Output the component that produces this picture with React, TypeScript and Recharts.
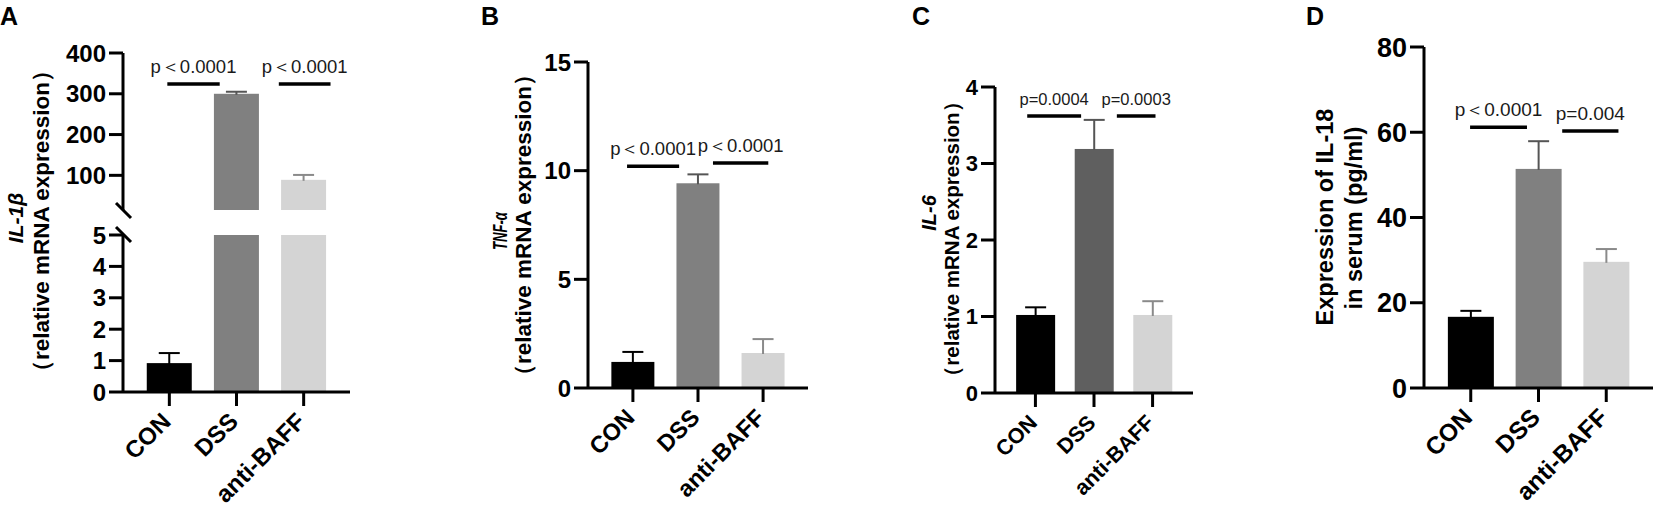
import React from 'react';
import { BarChart, Bar, Cell, XAxis, YAxis, ReferenceLine } from 'recharts';

const FONT = '"Liberation Sans", Arial, Helvetica, sans-serif';

// groups on the x axis
const groups = ['CON', 'DSS', 'anti-BAFF'];
const groupIndex = [0, 1, 2];

// A: IL-1β relative mRNA expression
const il1bMean = [0.92, 300, 89];
const il1bSem = [0.32, 5, 12];
// B: TNF-α
const tnfMean = [1.2, 9.42, 1.61];
const tnfSem = [0.46, 0.41, 0.64];
// C: IL-6
const il6Mean = [1.02, 3.19, 1.02];
const il6Sem = [0.1, 0.38, 0.18];
// D: IL-18 in serum (pg/ml)
const il18Mean = [16.7, 51.4, 29.6];
const il18Sem = [1.4, 6.5, 3.0];

// p-values between neighbouring groups
const il1bP = ['p＜0.0001', 'p＜0.0001'];
const tnfP = ['p＜0.0001', 'p＜0.0001'];
const il6P = ['p=0.0004', 'p=0.0003'];
const il18P = ['p＜0.0001', 'p=0.004'];

const barFills = ['#000000', '#808080', '#d4d4d4'];
const barFillsIL6 = ['#000000', '#5f5f5f', '#d4d4d4'];
const errStrokes = ['#000000', '#555555', '#8a8a8a'];

const buildRows = (mean: number[], sem: number[]) =>
  groupIndex.map((i) => ({ idx: i, name: groups[i], mean: mean[i], sem: sem[i] }));

// where each significance bar sits (x in group units, y in data units)
const bracketsA = [
  { from: -0.03, to: 0.75, at: 324 },
  { from: 1.63, to: 2.4, at: 324 },
];
const bracketsB = [
  { from: -0.09, to: 0.71, at: 10.2 },
  { from: 1.23, to: 2.08, at: 10.35 },
];
const bracketsC = [
  { from: -0.14, to: 0.78, at: 3.62 },
  { from: 1.39, to: 2.05, at: 3.62 },
];
const bracketsD = [
  { from: -0.01, to: 0.83, at: 61.2 },
  { from: 1.35, to: 2.18, at: 60.3 },
];

const makeBarShape = (domainMin: number) => (props: any) => {
  const { x, y, width, height, fill, payload, index } = props;
  const base = Math.max(domainMin, 0);
  const top = Math.min(y, y + height);
  const h = Math.abs(height);
  const out = [<rect key="r" x={x} y={top} width={width} height={h} fill={fill} />];
  if (payload.mean > base && h > 0) {
    const k = h / (payload.mean - base);
    const errY = top - payload.sem * k;
    const cx = x + width / 2;
    const stroke = errStrokes[index] || '#000';
    out.push(
      <line key="s" x1={cx} x2={cx} y1={top + 1} y2={errY} stroke={stroke} strokeWidth={2} />,
      <line key="c" x1={cx - 10.5} x2={cx + 10.5} y1={errY} y2={errY} stroke={stroke} strokeWidth={2} />
    );
  }
  return <g>{out}</g>;
};

const GroupTick = (props: any) => {
  const { x, y, payload, size } = props;
  const ax = x + 3;
  const ay = y + 15;
  return (
    <text
      x={ax}
      y={ay}
      transform={`rotate(-45 ${ax} ${ay})`}
      textAnchor="end"
      fontSize={size}
      fontWeight="bold"
      fill="#000"
    >
      {groups[payload.value]}
    </text>
  );
};

interface Box { left: number; top: number; width: number; height: number }
interface Plot { left: number; top: number; right: number; bottom: number }

interface PanelProps {
  box: Box;
  plot: Plot;
  rows: { idx: number; name: string; mean: number; sem: number }[];
  fills: string[];
  domain: [number, number];
  ticks: number[];
  tickFont: number;
  xFont: number;
  barSize: number;
  brackets: { from: number; to: number; at: number }[];
  pLabels: string[];
  statFont: number;
  hideX?: boolean;
  clip?: boolean;
}

const Panel: React.FC<PanelProps> = ({
  box, plot, rows, fills, domain, ticks, tickFont, xFont, barSize,
  brackets, pLabels, statFont, hideX = false, clip = false,
}) => {
  const xAxisHeight = box.top + box.height - plot.bottom;
  const margin = {
    top: plot.top - box.top,
    right: box.left + box.width - plot.right,
    left: 0,
    bottom: hideX ? xAxisHeight : 0,
  };
  const axisStyle = { stroke: '#000', strokeWidth: 3 };
  return (
    <div style={{ position: 'absolute', left: box.left, top: box.top }}>
      <BarChart width={box.width} height={box.height} data={rows} margin={margin}>
        <XAxis
          type="number"
          dataKey="idx"
          domain={[-0.69, 2.69]}
          ticks={[0, 1, 2]}
          interval={0}
          hide={hideX}
          height={xAxisHeight}
          axisLine={axisStyle}
          tickLine={axisStyle}
          tickSize={14}
          tickMargin={2}
          tick={(p: any) => <GroupTick {...p} size={xFont} />}
        />
        <YAxis
          type="number"
          domain={domain}
          ticks={ticks}
          interval={0}
          allowDataOverflow={clip}
          width={plot.left - box.left}
          axisLine={axisStyle}
          tickLine={axisStyle}
          tickSize={14}
          tickMargin={3}
          tick={{ fontSize: tickFont, fontWeight: 'bold', fill: '#000' }}
        />
        <Bar dataKey="mean" barSize={barSize} isAnimationActive={false} shape={makeBarShape(domain[0])}>
          {rows.map((r, i) => (
            <Cell key={r.name} fill={fills[i]} />
          ))}
        </Bar>
        {brackets.map((b, i) => (
          <ReferenceLine
            key={i}
            segment={[{ x: b.from, y: b.at }, { x: b.to, y: b.at }]}
            stroke="#000"
            strokeWidth={3.5}
            label={{ value: pLabels[i], position: 'top', offset: 11, fontSize: statFont, fill: '#1a1a1a' }}
          />
        ))}
      </BarChart>
    </div>
  );
};

const YTitle = ({ x, y, size, italic, children, fit }: any) => (
  <text
    x={x}
    y={y}
    transform={`rotate(-90 ${x} ${y})`}
    textAnchor="middle"
    dominantBaseline="central"
    fontSize={size}
    fontWeight="bold"
    fontStyle={italic ? 'italic' : 'normal'}
    textLength={fit}
    lengthAdjust={fit ? 'spacingAndGlyphs' : undefined}
    fill="#000"
  >
    {children}
  </text>
);

export default function App() {
  return (
    <div
      style={{
        position: 'absolute',
        left: 0,
        top: 0,
        width: 1655,
        height: 515,
        background: '#fff',
        fontFamily: FONT,
        overflow: 'hidden',
      }}
    >
      {/* A: broken axis, two stacked segments */}
      <Panel
        box={{ left: 40, top: 0, width: 330, height: 222 }}
        plot={{ left: 123, top: 53, right: 350, bottom: 210 }}
        rows={buildRows(il1bMean, il1bSem)}
        fills={barFills}
        domain={[15, 400]}
        ticks={[100, 200, 300, 400]}
        tickFont={24}
        xFont={24}
        barSize={45}
        brackets={bracketsA}
        pLabels={il1bP}
        statFont={18.5}
        hideX
        clip
      />
      <Panel
        box={{ left: 40, top: 222, width: 330, height: 293 }}
        plot={{ left: 123, top: 235, right: 350, bottom: 392 }}
        rows={buildRows(il1bMean, il1bSem)}
        fills={barFills}
        domain={[0, 5]}
        ticks={[0, 1, 2, 3, 4, 5]}
        tickFont={24}
        xFont={24}
        barSize={45}
        brackets={[]}
        pLabels={[]}
        statFont={18.5}
        clip
      />
      <Panel
        box={{ left: 480, top: 0, width: 340, height: 515 }}
        plot={{ left: 588, top: 62, right: 808, bottom: 388 }}
        rows={buildRows(tnfMean, tnfSem)}
        fills={barFills}
        domain={[0, 15]}
        ticks={[0, 5, 10, 15]}
        tickFont={24}
        xFont={23.5}
        barSize={43}
        brackets={bracketsB}
        pLabels={tnfP}
        statFont={18.5}
      />
      <Panel
        box={{ left: 900, top: 0, width: 305, height: 515 }}
        plot={{ left: 995, top: 87, right: 1193, bottom: 393 }}
        rows={buildRows(il6Mean, il6Sem)}
        fills={barFillsIL6}
        domain={[0, 4]}
        ticks={[0, 1, 2, 3, 4]}
        tickFont={22}
        xFont={21.5}
        barSize={39}
        brackets={bracketsC}
        pLabels={il6P}
        statFont={16.5}
      />
      <Panel
        box={{ left: 1330, top: 0, width: 325, height: 515 }}
        plot={{ left: 1424, top: 47, right: 1653, bottom: 388 }}
        rows={buildRows(il18Mean, il18Sem)}
        fills={barFills}
        domain={[0, 80]}
        ticks={[0, 20, 40, 60, 80]}
        tickFont={27}
        xFont={24.5}
        barSize={46}
        brackets={bracketsD}
        pLabels={il18P}
        statFont={19}
      />

      <svg
        width={1655}
        height={515}
        style={{ position: 'absolute', left: 0, top: 0, pointerEvents: 'none' }}
      >
        <g fontWeight="bold" fontSize={25} fill="#000">
          <text x={0} y={25}>A</text>
          <text x={481} y={25}>B</text>
          <text x={912} y={25}>C</text>
          <text x={1306} y={25}>D</text>
        </g>
        {/* axis break marks */}
        <line x1={116} y1={203} x2={131} y2={218} stroke="#000" strokeWidth={3} />
        <line x1={116} y1={227} x2={131} y2={242} stroke="#000" strokeWidth={3} />

        <YTitle x={15} y={218} size={21} italic>IL-1β</YTitle>
        <YTitle x={41} y={221} size={22.5}>（relative mRNA expression）</YTitle>
        <YTitle x={500} y={231} size={20} italic fit={38}>TNF-α</YTitle>
        <YTitle x={523} y={225} size={22.5}>（relative mRNA expression）</YTitle>
        <YTitle x={929} y={213} size={20} italic>IL-6</YTitle>
        <YTitle x={951} y={239} size={20.5}>（relative mRNA expression）</YTitle>
        <YTitle x={1325} y={217} size={23.5}>Expression of IL-18</YTitle>
        <YTitle x={1354} y={218} size={23.5}>in serum (pg/ml)</YTitle>
      </svg>
    </div>
  );
}
